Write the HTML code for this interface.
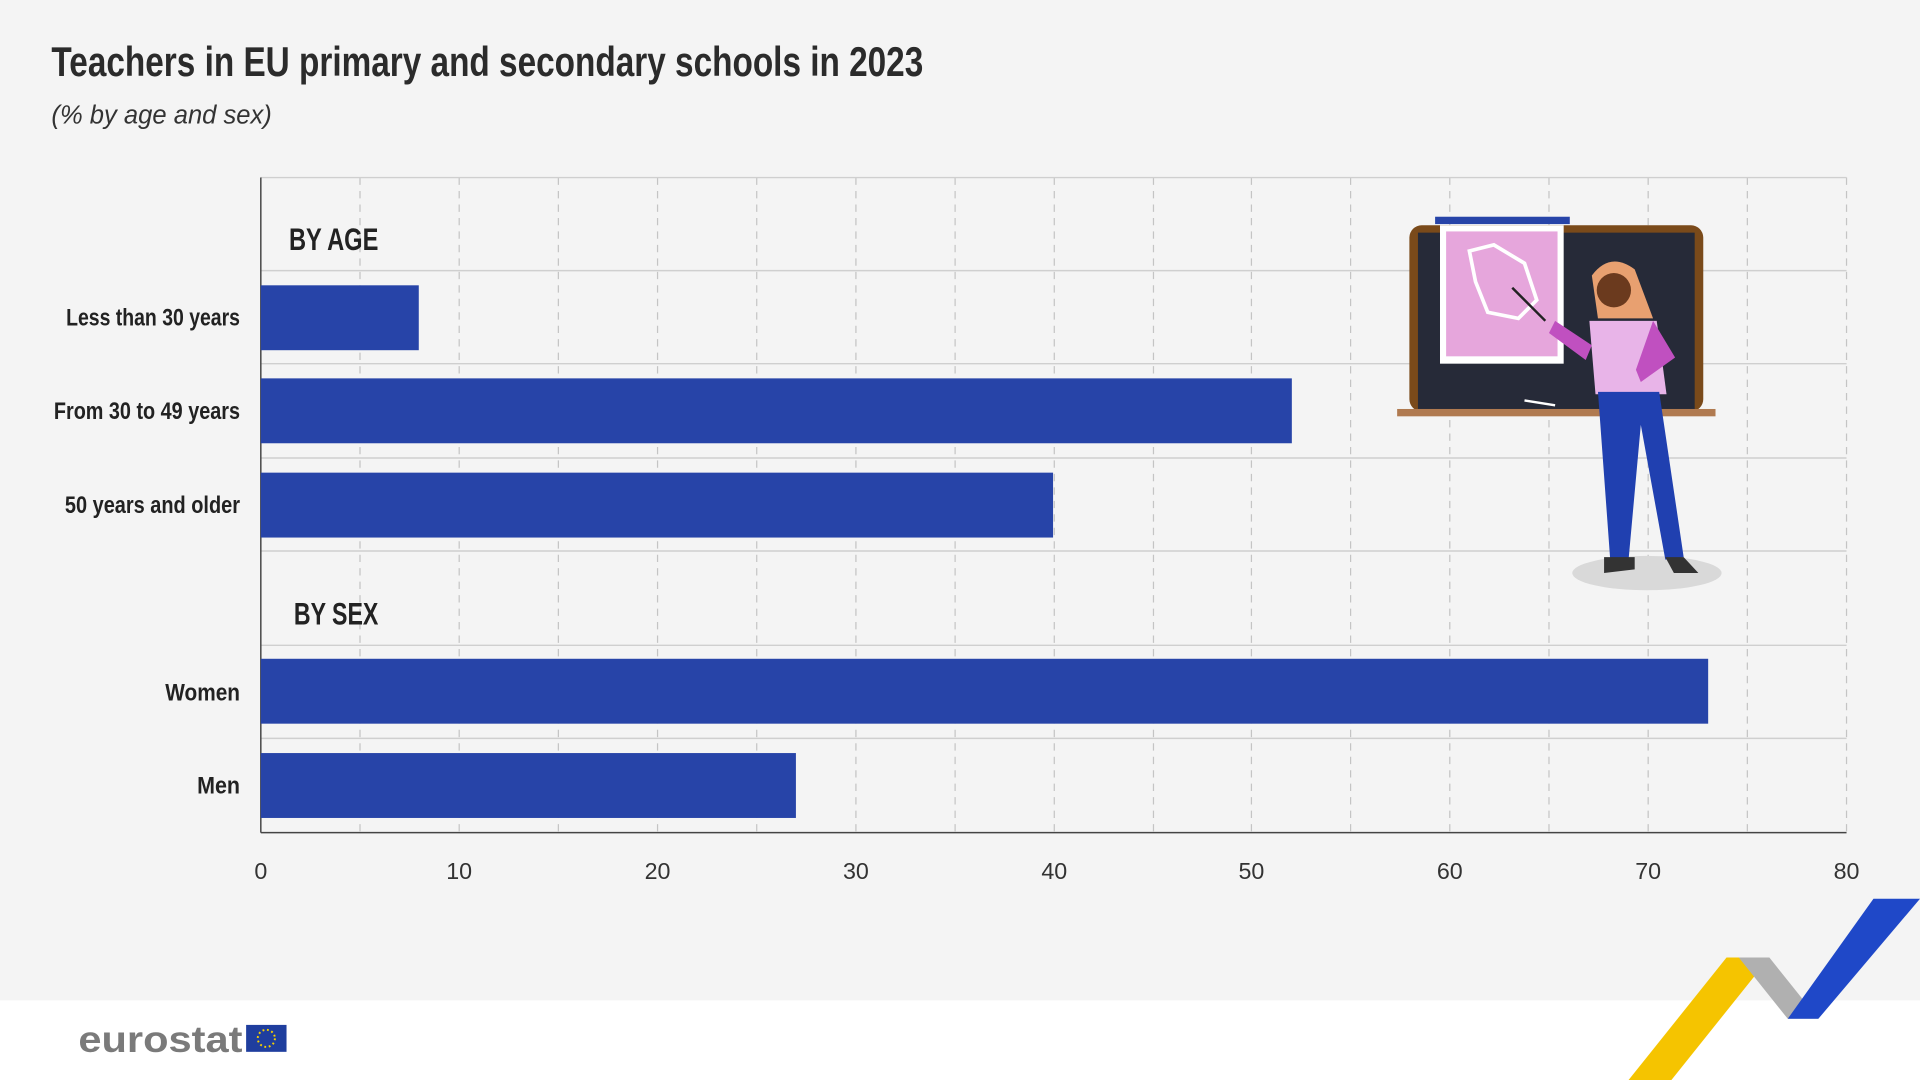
<!DOCTYPE html>
<html><head><meta charset="utf-8"><style>
html,body{margin:0;padding:0;background:#fff;}
svg{display:block;}
text{font-family:"Liberation Sans",sans-serif;}
</style></head><body>
<svg width="1920" height="1080" viewBox="0 0 1568 882" xmlns="http://www.w3.org/2000/svg">
<rect x="0" y="0" width="1568" height="817" fill="#f4f4f4"/>
<rect x="0" y="817" width="1568" height="65" fill="#ffffff"/>
<text x="42" y="62" font-size="34" font-weight="bold" fill="#2b2b2b" textLength="712" lengthAdjust="spacingAndGlyphs">Teachers in EU primary and secondary schools in 2023</text>
<text x="42" y="101" font-size="21" font-style="italic" fill="#333" textLength="180" lengthAdjust="spacingAndGlyphs">(% by age and sex)</text>
<!-- grid -->
<g stroke="#c4c4c4" stroke-width="1" stroke-dasharray="6,5">
<line x1="294" y1="145" x2="294" y2="680"/><line x1="375" y1="145" x2="375" y2="680"/><line x1="456" y1="145" x2="456" y2="680"/><line x1="537" y1="145" x2="537" y2="680"/><line x1="618" y1="145" x2="618" y2="680"/><line x1="699" y1="145" x2="699" y2="680"/><line x1="780" y1="145" x2="780" y2="680"/><line x1="861" y1="145" x2="861" y2="680"/><line x1="942" y1="145" x2="942" y2="680"/><line x1="1022" y1="145" x2="1022" y2="680"/><line x1="1103" y1="145" x2="1103" y2="680"/><line x1="1184" y1="145" x2="1184" y2="680"/><line x1="1265" y1="145" x2="1265" y2="680"/><line x1="1346" y1="145" x2="1346" y2="680"/><line x1="1427" y1="145" x2="1427" y2="680"/><line x1="1508" y1="145" x2="1508" y2="680"/>
</g>
<g stroke="#cfcfcf" stroke-width="1.2">
<line x1="213" y1="145" x2="1508" y2="145"/><line x1="213" y1="221" x2="1508" y2="221"/><line x1="213" y1="297" x2="1508" y2="297"/><line x1="213" y1="374" x2="1508" y2="374"/><line x1="213" y1="450" x2="1508" y2="450"/><line x1="213" y1="527" x2="1508" y2="527"/><line x1="213" y1="603" x2="1508" y2="603"/>
</g>
<line x1="213" y1="145" x2="213" y2="680" stroke="#444" stroke-width="1.2"/>
<line x1="213" y1="680" x2="1508" y2="680" stroke="#444" stroke-width="1.2"/>
<!-- illustration -->
<ellipse cx="1345" cy="468" rx="61" ry="14" fill="#d9d9d9"/>
<rect x="1151" y="184" width="240" height="152" rx="10" fill="#7a4a1a"/>
<rect x="1158" y="190" width="226" height="144" fill="#262a38"/>
<rect x="1141" y="334" width="260" height="6" fill="#b07a50"/>
<rect x="1172" y="177" width="110" height="6" fill="#2744a8"/>
<rect x="1176" y="184" width="101" height="113" fill="#fff"/>
<rect x="1181" y="189" width="91" height="102" fill="#e6a6dc"/>
<path d="M1200 205 l20 -5 l25 15 l10 30 l-15 15 l-25 -5 l-10 -25z" fill="none" stroke="#fff" stroke-width="3"/>
<line x1="1245" y1="327" x2="1270" y2="331" stroke="#fff" stroke-width="2"/>
<path d="M1300 225 q15 -20 35 -5 l15 40 l-45 0z" fill="#e8a070"/>
<circle cx="1318" cy="237" r="14" fill="#6b3a1e"/>
<path d="M1298 262 l55 0 l8 60 l-58 0z" fill="#e8b4e8"/>
<path d="M1270 262 l30 20 l-5 12 l-30 -22z M1350 262 l18 30 l-28 20 l-4 -10z" fill="#c050c0"/>
<path d="M1305 320 l50 0 l20 135 l-15 2 l-20 -110 l-10 110 l-15 0z" fill="#2040b0"/>
<path d="M1310 455 l25 0 l0 10 l-25 3z M1360 455 l15 0 l12 13 l-20 0z" fill="#333"/>
<line x1="1235" y1="235" x2="1262" y2="262" stroke="#222" stroke-width="2"/>
<!-- bars -->
<g fill="#2744a8">
<rect x="213" y="233" width="129" height="53"/>
<rect x="213" y="309" width="842" height="53"/>
<rect x="213" y="386" width="647" height="53"/>
<rect x="213" y="538" width="1182" height="53"/>
<rect x="213" y="615" width="437" height="53"/>
</g>
<g font-weight="bold" fill="#222">
<text x="236" y="204" font-size="26" textLength="73" lengthAdjust="spacingAndGlyphs">BY AGE</text>
<text x="240" y="510" font-size="26" textLength="69" lengthAdjust="spacingAndGlyphs">BY SEX</text>
</g>
<g font-size="20" fill="#222" text-anchor="end" font-weight="bold">
<text x="196" y="266" textLength="142" lengthAdjust="spacingAndGlyphs">Less than 30 years</text>
<text x="196" y="342" textLength="152" lengthAdjust="spacingAndGlyphs">From 30 to 49 years</text>
<text x="196" y="419" textLength="143" lengthAdjust="spacingAndGlyphs">50 years and older</text>
<text x="196" y="572" textLength="61" lengthAdjust="spacingAndGlyphs">Women</text>
<text x="196" y="648" textLength="35" lengthAdjust="spacingAndGlyphs">Men</text>
</g>
<g font-size="19" fill="#333" text-anchor="middle">
<text x="213" y="718">0</text><text x="375" y="718">10</text><text x="537" y="718">20</text><text x="699" y="718">30</text><text x="861" y="718">40</text><text x="1022" y="718">50</text><text x="1184" y="718">60</text><text x="1346" y="718">70</text><text x="1508" y="718">80</text>
</g>
<!-- footer -->
<text x="64" y="859" font-size="30" font-weight="bold" fill="#7a7a7a" textLength="134" lengthAdjust="spacingAndGlyphs">eurostat</text>
<rect x="201" y="837" width="33" height="22" fill="#1f3e9e"/>
<circle cx="217.5" cy="848" r="7" fill="none" stroke="#f5d000" stroke-width="1.6" stroke-dasharray="1.5,2.2"/>
<polygon points="1330,882 1410,782 1445,782 1365,882" fill="#f5c400"/>
<polygon points="1420,782 1445,782 1485,832 1460,832" fill="#b0b0b0"/>
<polygon points="1460,832 1530,734 1568,734 1485,832" fill="#1f48c8"/>
</svg>
</body></html>
